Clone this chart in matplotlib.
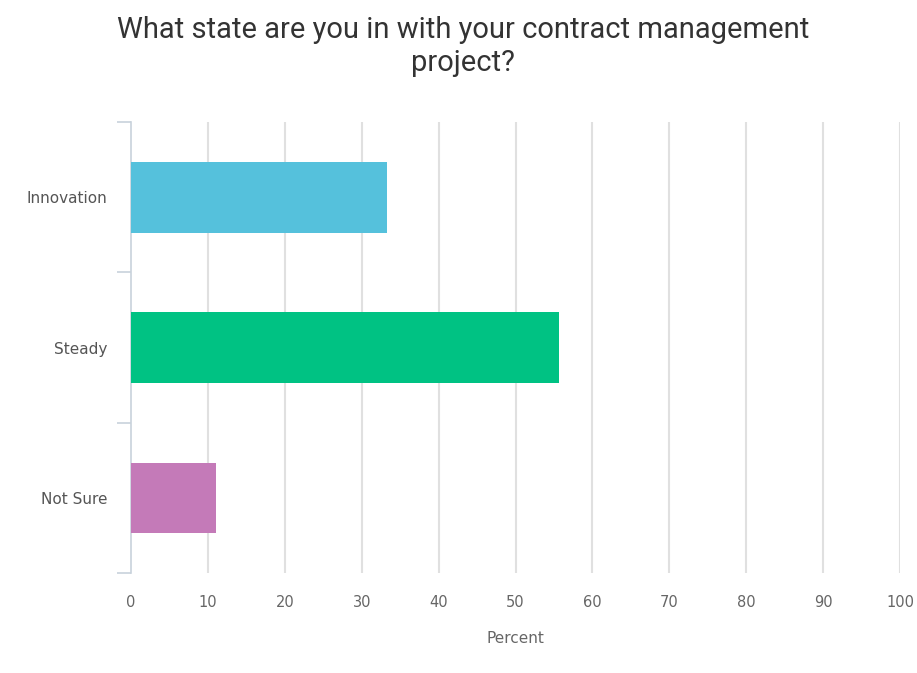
import matplotlib.pyplot as plt

# Data
categories = ["Innovation", "Steady", "Not Sure"]
percent = [33.3, 55.6, 11.1]
colors = ["#55c1dc", "#00c283", "#c47ab8"]
xticks = [0, 10, 20, 30, 40, 50, 60, 70, 80, 90, 100]

plt.rcParams['font.family'] = ['DejaVu Sans']

fig = plt.figure(figsize=(9.17, 6.73), dpi=100)
ax = fig.add_axes([0.1429, 0.1486, 0.8386, 0.6701])

ypos = list(range(len(categories)))
ax.barh(ypos, percent, height=0.47, color=colors, zorder=3)

ax.set_xlim(0, 100)
ax.set_ylim(2.5, -0.5)
ax.set_xticks(xticks)
ax.set_xticklabels([str(t) for t in xticks], fontsize=10.5, color="#666666")
ax.set_yticks(ypos)
ax.set_yticklabels(categories, fontsize=11, color="#555555")
ax.tick_params(axis='y', length=0, pad=17)
ax.tick_params(axis='x', length=0, pad=16)

# minor ticks on the y axis at band edges
ax.set_yticks([-0.5, 0.5, 1.5, 2.5], minor=True)
ax.tick_params(axis='y', which='minor', length=10, color="#c8d2dc", width=1.2)

for t in xticks[1:]:
    ax.axvline(t, color="#e0e0e0", lw=1.5, zorder=1)

for s in ['top', 'right', 'bottom']:
    ax.spines[s].set_visible(False)
ax.spines['left'].set_color("#c8d2dc")
ax.spines['left'].set_linewidth(1.2)

ax.set_xlabel("Percent", fontsize=11, color="#666666", labelpad=15)

fig.text(0.505, 0.976, "What state are you in with your contract management\nproject?",
         ha='center', va='top', fontsize=21, color="#333333", linespacing=1.22,
         family=['Roboto', 'DejaVu Sans'])

fig.savefig("out.png", dpi=100)
